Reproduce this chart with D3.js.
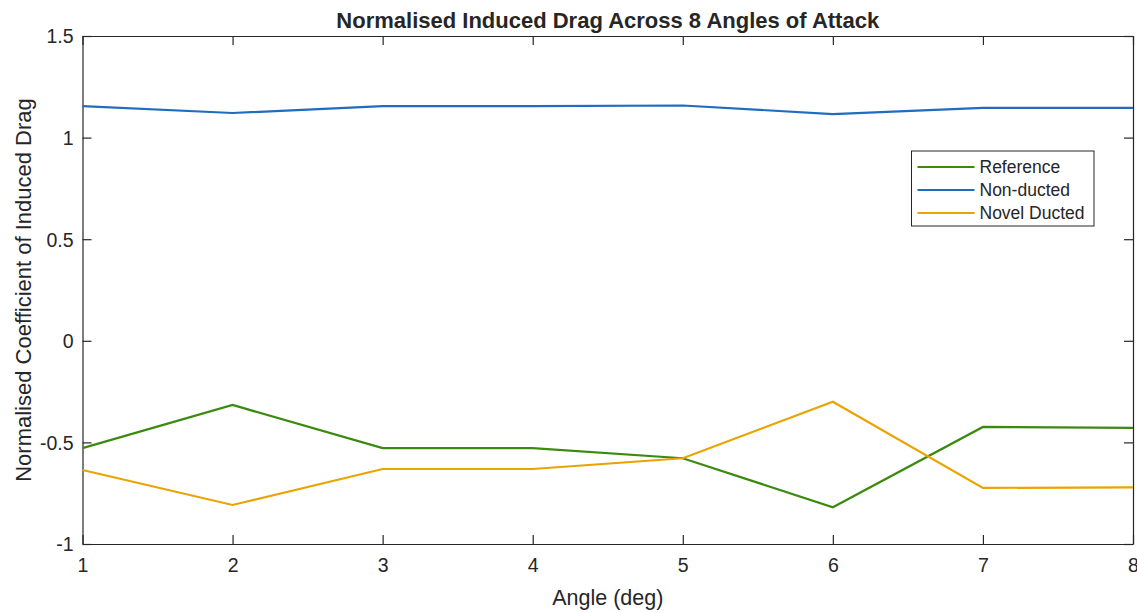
<!doctype html>
<html lang="en">
  <head>
    <meta charset="utf-8">
    <title>Normalised Induced Drag</title>
    <style>
      body { margin: 0; background: #fff; }
      svg text { font-family: "Liberation Sans", Arial, sans-serif; fill: #262626; }
    </style>
  </head>
  <body>
    <div class="container"></div>
    <script src="https://cdn.jsdelivr.net/npm/d3@7"></script>
    <script>

    // chart data
    var angles = [1, 2, 3, 4, 5, 6, 7, 8];
    var reference = [-0.528, -0.316, -0.528, -0.528, -0.578, -0.819, -0.424, -0.429];
    var nonDucted = [1.155, 1.121, 1.155, 1.155, 1.158, 1.116, 1.146, 1.146];
    var novelDucted = [-0.636, -0.808, -0.631, -0.631, -0.578, -0.300, -0.724, -0.721];
    var yTicks = [-1, -0.5, 0, 0.5, 1, 1.5];

    var series = [
      {name: "Reference", values: reference, color: "#3b8a10"},
      {name: "Non-ducted", values: nonDucted, color: "#1f6cc0"},
      {name: "Novel Ducted", values: novelDucted, color: "#eba300"}
    ];

    var width = 1137, height = 613;
    var margin = {top: 36, right: 4, bottom: 69, left: 82.5};

    var svg = d3.select(".container")
        .append("svg")
        .attr("width", width)
        .attr("height", height);

    var x = d3.scaleLinear().domain([1, 8]).range([margin.left, width - margin.right]);
    var y = d3.scaleLinear().domain([-1, 1.5]).range([height - margin.bottom, margin.top]);

    var axisColor = "#262626";

    // bottom and left axes with inward ticks, plus the box on top and right
    var xAxis = svg.append("g")
        .attr("transform", "translate(0," + (height - margin.bottom) + ")")
        .call(d3.axisBottom(x).tickValues(angles).tickSizeInner(-9).tickSizeOuter(0).tickPadding(13).tickFormat(d3.format("d")));
    var xTop = svg.append("g")
        .attr("transform", "translate(0," + margin.top + ")")
        .call(d3.axisTop(x).tickValues(angles).tickSizeInner(-9).tickSizeOuter(0).tickFormat(""));
    var yAxis = svg.append("g")
        .attr("transform", "translate(" + margin.left + ",0)")
        .call(d3.axisLeft(y).tickValues(yTicks).tickSizeInner(-9).tickSizeOuter(0).tickPadding(9).tickFormat(function(d){ return String(d); }));
    var yRight = svg.append("g")
        .attr("transform", "translate(" + (width - margin.right) + ",0)")
        .call(d3.axisRight(y).tickValues(yTicks).tickSizeInner(-9).tickSizeOuter(0).tickFormat(""));

    [xAxis, xTop, yAxis, yRight].forEach(function(g){
      g.selectAll("path").attr("stroke", axisColor).attr("stroke-width", 1.2);
      g.selectAll("line").attr("stroke", axisColor).attr("stroke-width", 1.2);
      g.selectAll("text").attr("font-size", 19.5).attr("font-family", "Liberation Sans, Arial, sans-serif").attr("fill", axisColor);
    });
    xAxis.selectAll("text").attr("dy", "0.75em");
    yAxis.selectAll("text").attr("dy", "0.35em");

    // lines
    var line = d3.line()
        .x(function(d, i){ return x(angles[i]); })
        .y(function(d){ return y(d); });

    svg.selectAll("path.series")
      .data(series)
      .join("path")
      .attr("class", "series")
      .attr("d", function(d){ return line(d.values); })
      .attr("fill", "none")
      .attr("stroke", function(d){ return d.color; })
      .attr("stroke-width", 2.2);

    // title and axis labels
    svg.append("text")
      .attr("x", (margin.left + width - margin.right) / 2)
      .attr("y", 28)
      .attr("text-anchor", "middle")
      .attr("font-size", 22)
      .attr("font-weight", "bold")
      .text("Normalised Induced Drag Across 8 Angles of Attack");

    svg.append("text")
      .attr("x", (margin.left + width - margin.right) / 2)
      .attr("y", 605)
      .attr("text-anchor", "middle")
      .attr("font-size", 21.5)
      .text("Angle (deg)");

    svg.append("text")
      .attr("transform", "translate(31," + ((margin.top + height - margin.bottom) / 2) + ") rotate(-90)")
      .attr("text-anchor", "middle")
      .attr("font-size", 22)
      .text("Normalised Coefficient of Induced Drag");

    // legend
    var legend = svg.append("g").attr("transform", "translate(911.5,151)");
    legend.append("rect")
      .attr("width", 182.5)
      .attr("height", 75)
      .attr("fill", "#fff")
      .attr("stroke", axisColor)
      .attr("stroke-width", 1);

    var items = legend.selectAll("g.item")
      .data(series)
      .join("g")
      .attr("class", "item")
      .attr("transform", function(d, i){ return "translate(0," + (16 + i * 23) + ")"; });
    items.append("line")
      .attr("x1", 6).attr("x2", 63)
      .attr("stroke", function(d){ return d.color; })
      .attr("stroke-width", 2.2);
    items.append("text")
      .attr("x", 68)
      .attr("dy", "0.35em")
      .attr("font-size", 17.5)
      .text(function(d){ return d.name; });

    </script>
  </body>
</html>
